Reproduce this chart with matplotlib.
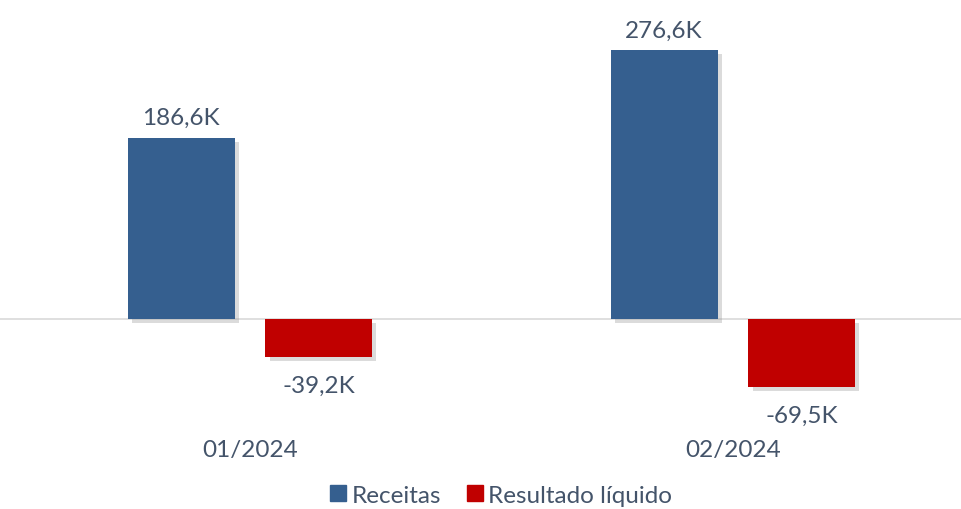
import matplotlib
matplotlib.use("Agg")
import matplotlib.pyplot as plt
import matplotlib.patheffects as pe
from matplotlib.lines import Line2D
import numpy as np

categories = ["01/2024", "02/2024"]
receitas = [186.6, 276.6]
resultado = [-39.2, -69.5]
series_names = ["Receitas", "Resultado líquido"]

blue = "#355F8F"
red = "#C00000"
txt = "#44546A"

plt.rcParams['font.family'] = ['Lato', 'DejaVu Sans']

fig = plt.figure(figsize=(9.62, 5.10), dpi=100)
ax = fig.add_axes([0, 70/510, 1, 420/510])

x = np.arange(len(categories))
w = 0.2215
off = 0.1425
shadow = [pe.SimplePatchShadow(offset=(3, -3), shadow_rgbFace='#999999', alpha=0.35), pe.Normal()]

b1 = ax.bar(x - off, receitas, w, color=blue, zorder=3)
b2 = ax.bar(x + off, resultado, w, color=red, zorder=3)
for p in list(b1) + list(b2):
    p.set_path_effects(shadow)

ax.axhline(0, color="#D9D9D9", lw=1.2, zorder=2)

def fmt(v):
    return f"{v:.1f}K".replace(".", ",")

fs = 17.5
for xi, v in zip(x - off, receitas):
    ax.annotate(fmt(v), (xi, v), xytext=(0, 7), textcoords="offset points",
                ha="center", va="bottom", fontsize=fs, color=txt)
for xi, v in zip(x + off, resultado):
    ax.annotate(fmt(v), (xi, v), xytext=(0, -13), textcoords="offset points",
                ha="center", va="top", fontsize=fs, color=txt)

ax.set_xlim(-250/483, (962-250)/483)
ax.set_ylim(-(440-320)/0.972, (320-20)/0.972)
ax.set_xticks(x)
ax.set_xticklabels(categories, fontsize=fs, color=txt)
ax.tick_params(axis='x', length=0, pad=0)
ax.set_yticks([])
for s in ax.spines.values():
    s.set_visible(False)

handles = [Line2D([], [], marker='s', ls='', color=blue, markersize=11),
           Line2D([], [], marker='s', ls='', color=red, markersize=11)]
fig.legend(handles, series_names, loc='center', bbox_to_anchor=(0.52, 1 - 496/510),
           ncol=2, frameon=False, fontsize=fs, labelcolor=txt,
           handletextpad=0.15, columnspacing=1.0, handlelength=0.8)

fig.savefig("out.png", dpi=100)
